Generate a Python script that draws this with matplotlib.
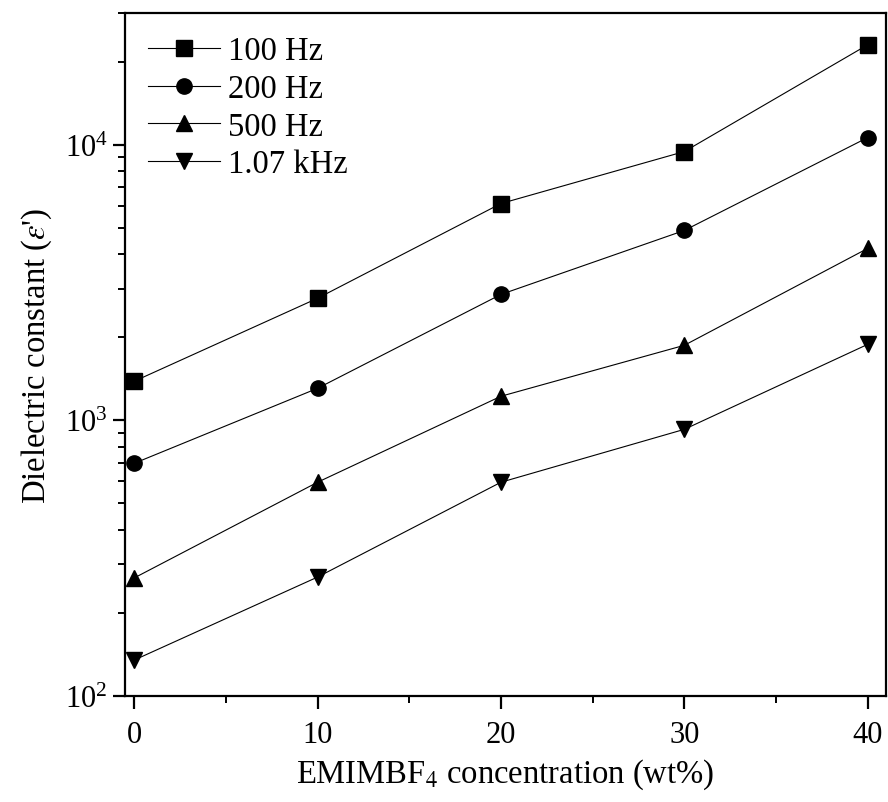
import matplotlib
matplotlib.use("Agg")
import matplotlib.pyplot as plt
from matplotlib.ticker import MultipleLocator, LogLocator, NullFormatter

plt.rcParams['font.family'] = ['Liberation Serif', 'DejaVu Serif']
plt.rcParams['mathtext.fontset'] = 'stix'

conc = [0, 10, 20, 30, 40]
eps_100hz = [1385, 2770, 6110, 9430, 23000]
eps_200hz = [698, 1306, 2860, 4880, 10600]
eps_500hz = [268, 596, 1222, 1870, 4200]
eps_1070hz = [135, 270, 596, 927, 1885]
labels = ["100 Hz", "200 Hz", "500 Hz", "1.07 kHz"]

fig = plt.figure(figsize=(8.88, 8.03), dpi=100)
ax = fig.add_axes([0.1408, 0.132, 0.857, 0.8506])

series = [eps_100hz, eps_200hz, eps_500hz, eps_1070hz]
markers = ["s", "o", "^", "v"]
for ys, m, lab in zip(series, markers, labels):
    ax.plot(conc, ys, color="black", lw=0.8, marker=m, ms=11, label=lab)

ax.set_yscale("log")
ax.set_xlim(-0.5, 41)
ax.set_ylim(100, 30000)
ax.xaxis.set_major_locator(MultipleLocator(10))
ax.xaxis.set_minor_locator(MultipleLocator(5))
ax.yaxis.set_minor_locator(LogLocator(base=10, subs=range(2, 10)))
ax.yaxis.set_minor_formatter(NullFormatter())

for s in ax.spines.values():
    s.set_linewidth(1.6)
ax.tick_params(which="major", direction="out", length=9, width=1.6, labelsize=22)
ax.tick_params(which="minor", direction="out", length=5, width=1.4)
ax.tick_params(axis="x", which="major", pad=8)

ax.set_xlabel("EMIMBF$_4$ concentration (wt%)", fontsize=23.5, labelpad=6)
ax.set_ylabel("Dielectric constant ($\\varepsilon$')", fontsize=23.5, labelpad=8)

ax.legend(loc="upper left", frameon=False, fontsize=23.5, handlelength=2.2,
          handletextpad=0.27, labelspacing=0.22, borderaxespad=0.3)

fig.savefig("out.png", dpi=100)
